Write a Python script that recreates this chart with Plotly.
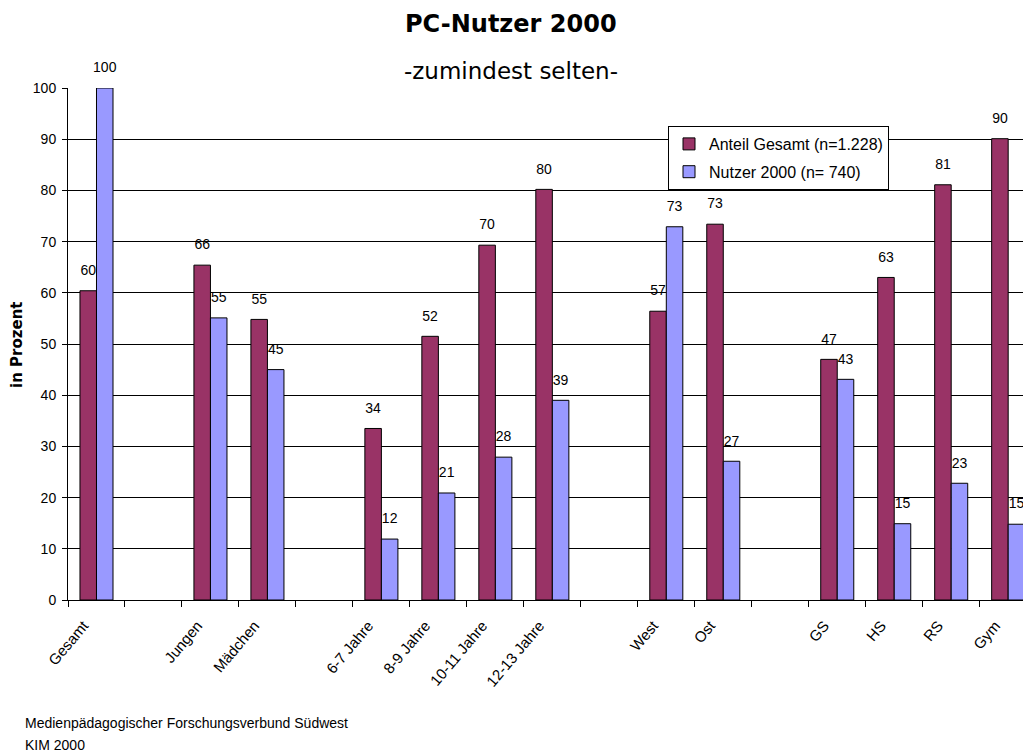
import plotly.graph_objects as go

# ---- data ----
categories = ["Gesamt", " ", "Jungen", "Mädchen", "  ", "6-7 Jahre", "8-9 Jahre",
              "10-11 Jahre", "12-13 Jahre", "   ", "West", "Ost", "    ",
              "GS", "HS", "RS", "Gym"]
anteil_gesamt = [60.4, None, 65.4, 54.8, None, 33.5, 51.5, 69.3, 80.2, None,
                 56.4, 73.4, None, 47.0, 63.0, 81.1, 90.1]
anteil_labels = ["60", None, "66", "55", None, "34", "52", "70", "80", None,
                 "57", "73", None, "47", "63", "81", "90"]
nutzer_2000 = [100, None, 55.1, 45.0, None, 11.9, 20.9, 27.9, 39.0, None,
               72.9, 27.1, None, 43.1, 14.9, 22.8, 14.8]
nutzer_labels = ["100", None, "55", "45", None, "12", "21", "28", "39", None,
                 "73", "27", None, "43", "15", "23", "15"]
series_names = ["Anteil Gesamt (n=1.228)", "Nutzer 2000 (n= 740)"]
colors = ["#993366", "#9999FF"]

# ---- layout constants (pixels) ----
W, H = 1023, 754
L, R, T, B = 68, 0, 88, 154
PW, PH = W - L - R, H - T - B


def px_x(x):
    return (x - L) / PW


def px_y(y):
    return (H - B - y) / PH


SANS = "Liberation Sans, Arial, sans-serif"
WIDE = "DejaVu Sans, Verdana, sans-serif"

fig = go.Figure()
for vals, name, col in zip([anteil_gesamt, nutzer_2000], series_names, colors):
    fig.add_trace(go.Bar(
        x=categories, y=vals, name=name,
        marker=dict(color=col, line=dict(color="black", width=1)),
        offsetgroup=name, alignmentgroup="a", legendgroup=name,
        cliponaxis=False, hoverinfo="skip",
    ))
for vals, labels, name in zip([anteil_gesamt, nutzer_2000],
                              [anteil_labels, nutzer_labels], series_names):
    fig.add_trace(go.Scatter(
        x=categories, y=vals, text=labels, mode="markers+text",
        marker=dict(size=18, opacity=0), textposition="top center",
        textfont=dict(family=SANS, size=14, color="black"),
        offsetgroup=name, alignmentgroup="a",
        showlegend=False, cliponaxis=False, hoverinfo="skip",
    ))

fig.update_layout(
    width=W, height=H,
    margin=dict(l=L, r=R, t=T, b=B, pad=0),
    paper_bgcolor="white", plot_bgcolor="white",
    barmode="group", bargap=0.42, bargroupgap=0,
    scattermode="group", scattergap=0.42,
    showlegend=True,
    legend=dict(
        x=px_x(668), y=px_y(126), xanchor="left", yanchor="top",
        bordercolor="black", borderwidth=1, bgcolor="white",
        font=dict(family=SANS, size=16, color="black"),
        itemwidth=30, tracegroupgap=4,
    ),
    xaxis=dict(
        type="category", categoryorder="array", categoryarray=categories,
        range=[-0.5, 16.26], tickson="boundaries", ticks="outside", ticklen=6,
        tickcolor="black", showline=True, linecolor="black", linewidth=1,
        tickangle=-50, tickfont=dict(family=SANS, size=15, color="black"),
        ticklabelshift=-13, ticklabelstandoff=10,
        showgrid=False, fixedrange=True,
    ),
    yaxis=dict(
        range=[0, 100], dtick=10, tick0=0, showgrid=True, gridcolor="black",
        gridwidth=1, showline=True, linecolor="black", linewidth=1,
        ticks="outside", ticklen=5, tickcolor="black", zeroline=False,
        ticklabelstandoff=3,
        tickfont=dict(family=SANS, size=14, color="black"), fixedrange=True,
    ),
    annotations=[
        dict(text="<b>PC-Nutzer 2000</b>", x=px_x(511), y=px_y(24),
             xref="paper", yref="paper", showarrow=False,
             font=dict(family=WIDE, size=24, color="black"),
             xanchor="center", yanchor="middle"),
        dict(text="-zumindest selten-", x=px_x(511), y=px_y(71),
             xref="paper", yref="paper", showarrow=False,
             font=dict(family=WIDE, size=23, color="black"),
             xanchor="center", yanchor="middle"),
        dict(text="<b>in Prozent</b>", x=px_x(17), y=px_y(345),
             xref="paper", yref="paper", showarrow=False, textangle=-90,
             font=dict(family=WIDE, size=15, color="black"),
             xanchor="center", yanchor="middle"),
        dict(text="Medienpädagogischer Forschungsverbund Südwest", x=px_x(23), y=px_y(723),
             xref="paper", yref="paper", showarrow=False,
             font=dict(family=SANS, size=14, color="black"),
             xanchor="left", yanchor="middle"),
        dict(text="KIM 2000", x=px_x(23), y=px_y(745),
             xref="paper", yref="paper", showarrow=False,
             font=dict(family=SANS, size=14, color="black"),
             xanchor="left", yanchor="middle"),
    ],
)

fig.write_html(
    "out.html",
    config={"displayModeBar": False},
    post_script="document.body.style.margin='0';document.body.style.overflow='hidden';",
)
